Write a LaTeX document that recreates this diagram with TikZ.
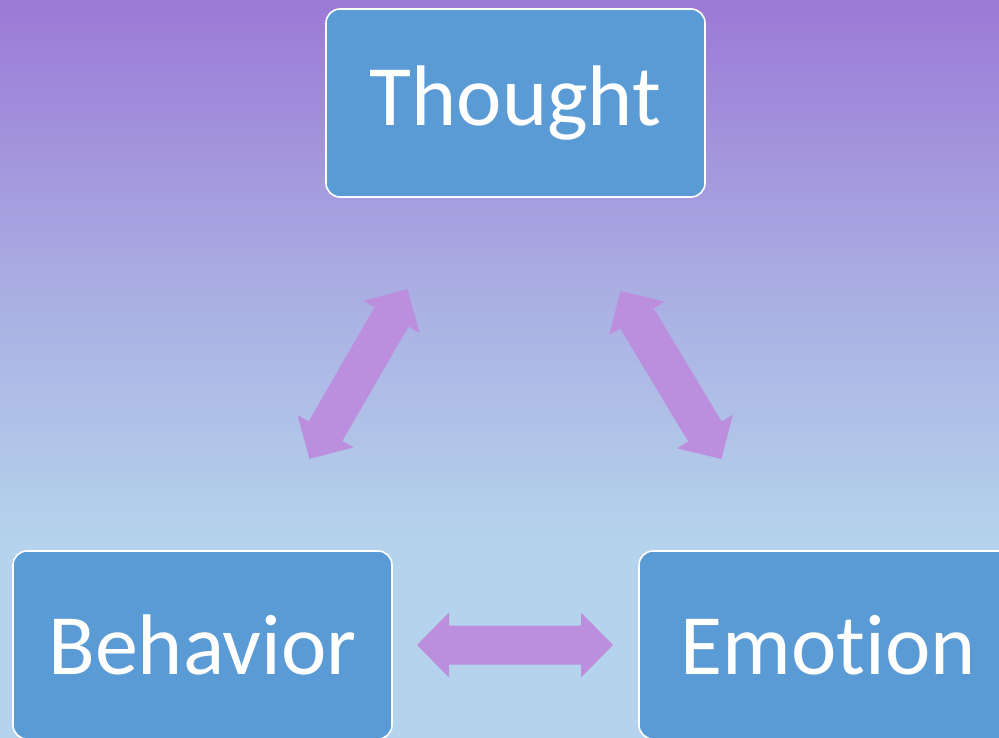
\documentclass[tikz,border=0pt]{standalone}
\usepackage{fontspec}
\setmainfont[Ligatures={NoCommon,NoRare,NoContextual}]{Carlito}
\definecolor{bgtop}{RGB}{155,121,214}
\definecolor{bgmid}{RGB}{170,175,227}
\definecolor{bgbot}{RGB}{181,211,236}
\definecolor{boxblue}{RGB}{91,155,213}
\definecolor{arrowpurple}{RGB}{187,143,221}
\pgfdeclareverticalshading{bgshade}{100bp}{color(0bp)=(bgbot); color(25bp)=(bgbot); color(38bp)=(bgbot); color(55bp)=(bgmid); color(75bp)=(bgtop); color(100bp)=(bgtop)}
\tikzset{
  box/.style={draw=white, line width=1.6pt, fill=boxblue, rounded corners=14pt,
    minimum width=379pt, minimum height=188pt, inner sep=0pt, text=white,
    font=\fontsize{86}{90}\selectfont},
  blockarrow/.style={fill=arrowpurple, draw=none}
}
\begin{document}
\begin{tikzpicture}[x=1pt,y=-1pt]
\useasboundingbox (0,0) rectangle (999,737);
\shade[shading=bgshade] (0,0) rectangle (999,737);
\begin{scope}
\clip (0,0) rectangle (999,737);
\node[box] (thought) at (515.5,103) {Thought};
\node[box] (behavior) at (202.5,645) {Behavior};
\node[box] (emotion) at (828.5,645) {Emotion};
\end{scope}
% block arrows
\foreach \cx/\cy/\ang [count=\i] in {358.5/374/60, 671/375/-59, 515/645/0}{
  \begin{scope}[shift={(\cx,\cy)}, rotate=\ang]
    \coordinate (arrow\i) at (0,0);
    \fill[blockarrow] (-98,0) -- (-66,32.5) -- (-66,19.5) -- (66,19.5) -- (66,32.5)
      -- (98,0) -- (66,-32.5) -- (66,-19.5) -- (-66,-19.5) -- (-66,-32.5) -- cycle;
  \end{scope}
}
\end{tikzpicture}
\end{document}
